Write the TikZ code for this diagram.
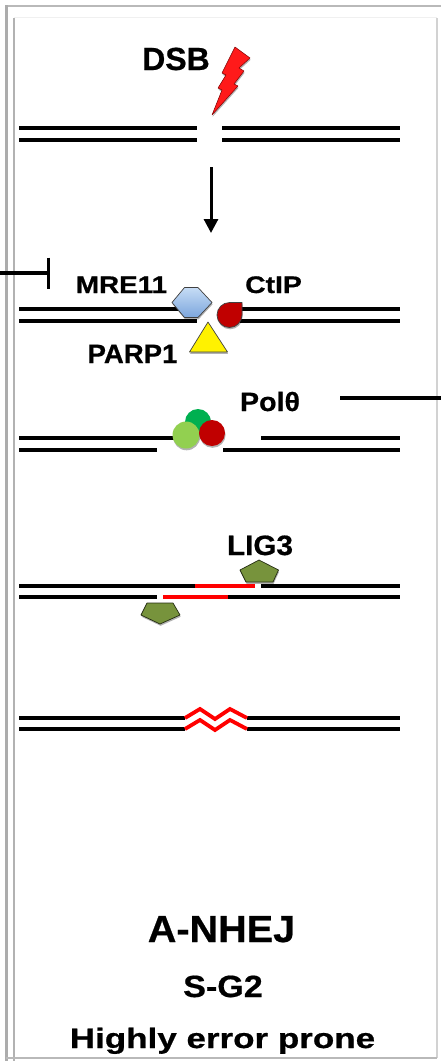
\documentclass[tikz,border=0pt]{standalone}
\usepackage{fontspec}
\setmainfont{Liberation Sans}[BoldFeatures={FakeBold=0.6}]
\usetikzlibrary{arrows.meta,shadows}
\newcommand{\stretchtxt}[2]{\scalebox{#1}[1]{#2}}
\definecolor{boltred}{HTML}{FF1A1A}
\definecolor{dropred}{HTML}{C00000}
\definecolor{darkgreen}{HTML}{00B050}
\definecolor{lightgreen}{HTML}{92D050}
\definecolor{olive}{HTML}{77933C}
\definecolor{hexlight}{HTML}{C6DCF5}
\definecolor{hexdark}{HTML}{7CA6DD}
\begin{document}
\begin{tikzpicture}[x=1pt,y=-1pt,
  dna/.style={line width=3.8pt,black},
  edit/.style={line width=3.8pt,red},
  lbl/.style={font={\fontsize{#1pt}{#1pt}\selectfont\bfseries},inner sep=0pt,anchor=base},
  softshadow/.style={drop shadow={shadow xshift=0.6pt,shadow yshift=-1.8pt,opacity=0.3,fill=black}},
  protein/.style={draw=black!75,line width=0.7pt,line join=round,softshadow},
  blob/.style={softshadow}
]
\useasboundingbox (0,0) rectangle (441,1061);

% panel frame
\draw[gray!55,line width=2pt] (5,5.5) -- (441,5.5);
\draw[gray!65,line width=3pt] (6,5) -- (6,1061);
\draw[gray!12,line width=1pt] (14,17) -- (437,17);
\draw[gray!60,line width=2.5pt] (14,18) -- (14,1061);
\draw[gray!35,line width=2pt] (437,18) -- (437,1058);
\draw[gray!55,line width=1.2pt] (6,1058) -- (437,1058);

% step 1: double-strand break
\node[lbl=32] (dsb) at (176,70) {DSB};
\fill[boltred,draw=red!50!black,line width=0.5pt,line join=round,softshadow]
  (235,47) -- (250,58) -- (239,68) -- (244,71) -- (234,84) -- (238,86)
  -- (212,115) -- (222,90) -- (218,88) -- (226,75) -- (222,73) -- cycle;
\draw[dna] (19,128) -- (197,128) (19,140) -- (197,140);
\draw[dna] (222,128) -- (400,128) (222,140) -- (400,140);

\coordinate (arrowtop) at (211,167);
\coordinate (arrowtip) at (211,233);
\draw[line width=3pt,-{Triangle[length=14pt,width=14pt]}] (arrowtop) -- (arrowtip);

% inhibition coming in from the left
\coordinate (inhstart) at (0,273);
\coordinate (inhend) at (50,273);
\draw[line width=3.3pt,-{Bar[width=31pt,line width=3.5pt]}] (inhstart) -- (inhend);

% step 2: end recognition
\draw[dna] (19,309) -- (185,309) (19,321) -- (197,321);
\draw[dna] (240,309) -- (400,309) (240,321) -- (400,321);
\node[lbl=24] (mre) at (121.5,293) {\stretchtxt{1.16}{MRE11}};
\node[lbl=24] (ctip) at (273.5,293) {\stretchtxt{1.18}{CtIP}};
\node[lbl=26.5] (parp) at (132.5,363) {\stretchtxt{1.04}{PARP1}};
\path[protein,top color=hexlight,bottom color=hexdark]
  (172,302.5) -- (184.5,287.5) -- (198,287.5) -- (212,302.5) -- (198,317.5) -- (184.5,317.5) -- cycle;
\path[protein,fill=dropred]
  (229.5,302.5) -- (242,302.5) -- (242,315) arc[start angle=0,end angle=270,radius=12.5] -- cycle;
\path[protein,fill=yellow] (208,322) -- (227.5,352) -- (189.5,352) -- cycle;

% step 3: Pol theta synthesis
\node[lbl=26.5] (pol) at (270,411) {\stretchtxt{1.08}{Polθ}};
\coordinate (polstart) at (340,398);
\coordinate (polend) at (441,398);
\draw[line width=3.5pt] (polstart) -- (polend);
\draw[dna] (19,438) -- (180,438) (19,450) -- (157,450);
\draw[dna] (261,438) -- (400,438) (223,450) -- (400,450);
\fill[darkgreen,blob] (198,422) circle[radius=13];
\fill[lightgreen,blob] (186,435) circle[radius=13.5];
\fill[dropred,blob] (212,433) circle[radius=13];

% step 4: ligation
\node[lbl=28] (lig) at (260,555) {\stretchtxt{1.06}{LIG3}};
\draw[dna] (19,586) -- (195,586) (261,586) -- (400,586);
\draw[dna] (19,597) -- (157,597) (226,597) -- (400,597);
\draw[edit] (195,586) -- (255,586);
\draw[edit] (163,597) -- (228,597);
\path[protein,fill=olive,draw=black!70!olive]
  (259,560) -- (278.5,570) -- (273,582) -- (246,582) -- (240,570) -- cycle;
\path[protein,fill=olive,draw=black!70!olive]
  (147,603) -- (173,603) -- (180,615) -- (160,624) -- (141,615) -- cycle;

% step 5: repaired junction with deletion
\draw[dna] (19,718) -- (185,718) (19,729) -- (185,729);
\draw[dna] (247,718) -- (400,718) (247,729) -- (400,729);
\draw[edit,line join=miter] (185,718) -- (200,709) -- (215,719) -- (230,709) -- (247,718);
\draw[edit,line join=miter] (185,729) -- (200,720) -- (215,730) -- (230,720) -- (247,729);

% pathway caption
\node[lbl=37.7] (title) at (221.5,942) {\stretchtxt{1.05}{A-NHEJ}};
\node[lbl=30.7] (phase) at (223,997) {\stretchtxt{1.11}{S-G2}};
\node[lbl=28] (fidelity) at (222.5,1048) {\stretchtxt{1.25}{Highly error prone}};
\end{tikzpicture}
\end{document}
